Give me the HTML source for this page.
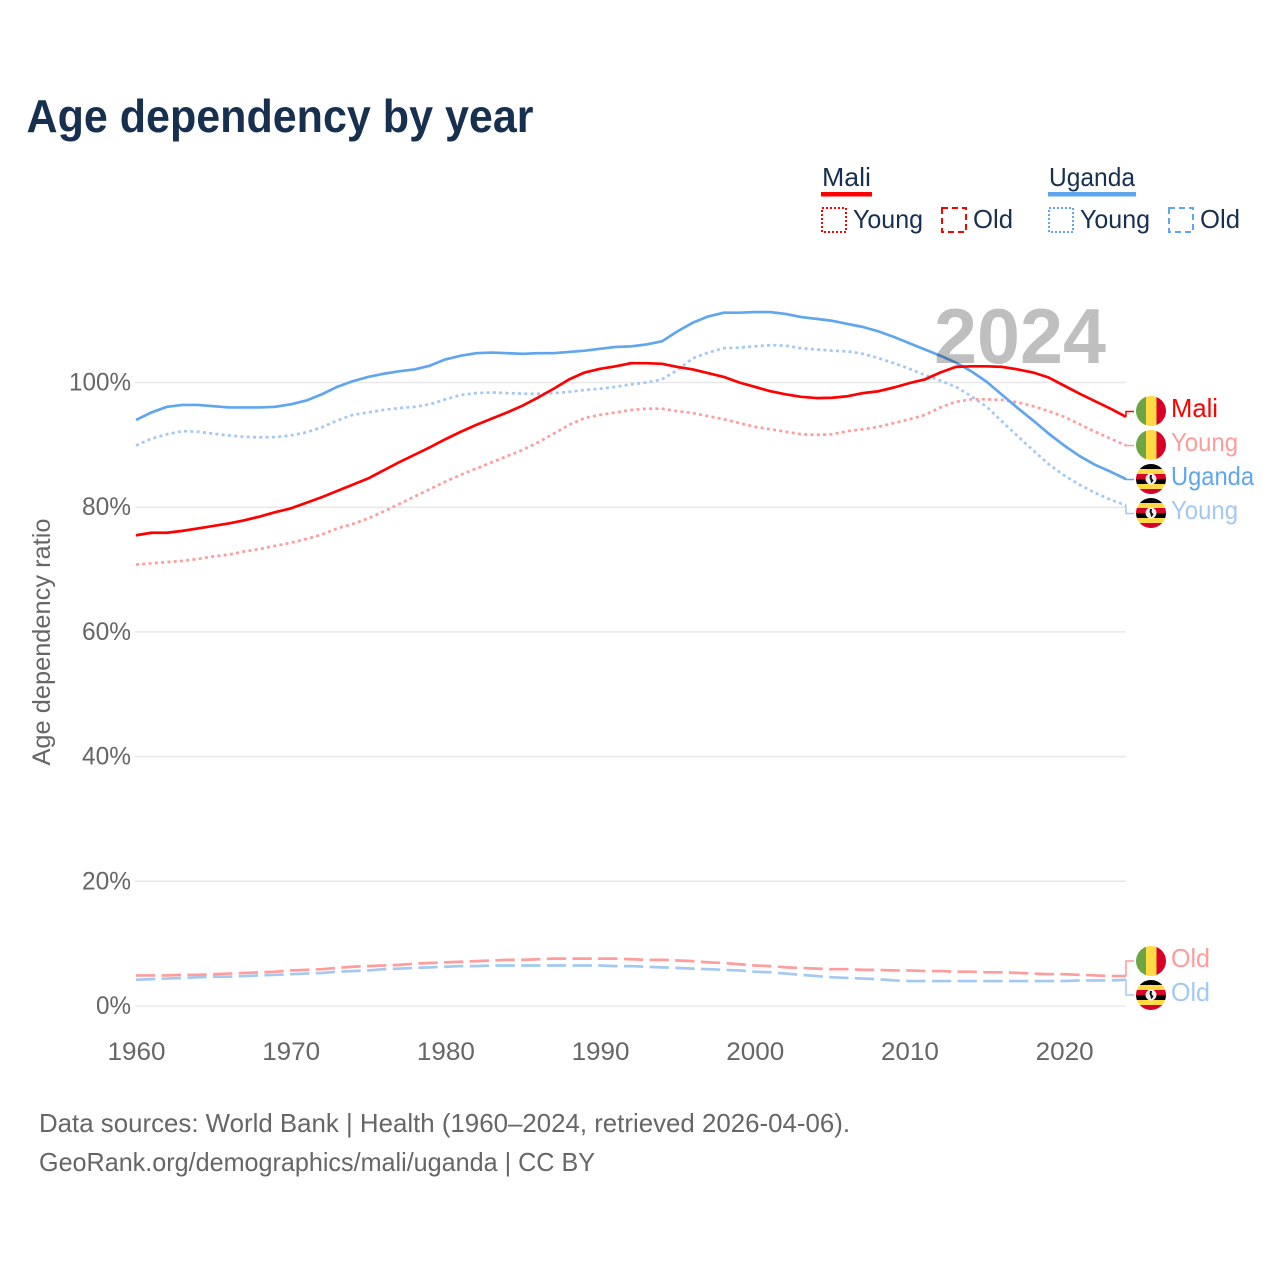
<!DOCTYPE html>
<html lang="en">
<head>
<meta charset="utf-8">
<title>Age dependency by year</title>
<style>
html,body{margin:0;padding:0;background:#fff}
svg{display:block}
text{font-family:"Liberation Sans",sans-serif}
</style>
</head>
<body>
<svg id="chart" xmlns="http://www.w3.org/2000/svg" width="1280" height="1280" viewBox="0 0 1280 1280">
<defs>
  <clipPath id="flag-clip"><circle cx="15" cy="15" r="15"/></clipPath>
  <symbol id="flag-mali" width="30" height="30" viewBox="0 0 30 30">
    <g clip-path="url(#flag-clip)">
      <rect x="0" y="0" width="10" height="30" fill="#6da544"/>
      <rect x="10" y="0" width="10.5" height="30" fill="#ffda44"/>
      <rect x="20.5" y="0" width="9.5" height="30" fill="#d80027"/>
    </g>
  </symbol>
  <symbol id="flag-uganda" width="30" height="30" viewBox="0 0 30 30">
    <g clip-path="url(#flag-clip)">
      <rect x="0" y="0" width="30" height="5" fill="#000"/>
      <rect x="0" y="5" width="30" height="5" fill="#ffda44"/>
      <rect x="0" y="10" width="30" height="5" fill="#d80027"/>
      <rect x="0" y="15" width="30" height="5" fill="#000"/>
      <rect x="0" y="20" width="30" height="5" fill="#ffda44"/>
      <rect x="0" y="25" width="30" height="5" fill="#d80027"/>
      <circle cx="15" cy="15" r="5.5" fill="#f0f0f0"/>
      <path d="M14 11 L16 11 L15.6 14 L17.5 16.5 L16 18.5 L15 19 L14.5 16 L13.5 14 Z" fill="#111"/>
    </g>
  </symbol>
</defs>

<text x="26.5" y="132" font-size="46" font-weight="700" fill="#18304f" textLength="507" lengthAdjust="spacingAndGlyphs">Age dependency by year</text>

<g id="grid"></g>
<g id="yticks"></g>
<g id="xticks"></g>

<text transform="translate(50,642) rotate(-90)" text-anchor="middle" font-size="25" fill="#666" textLength="247" lengthAdjust="spacingAndGlyphs">Age dependency ratio</text>

<g id="series"></g>
<g id="connectors"></g>

<text x="934" y="363" font-size="78" font-weight="700" fill="#000" fill-opacity="0.25" textLength="172" lengthAdjust="spacingAndGlyphs">2024</text>

<g>
  <text x="822" y="186" font-size="26" fill="#18304f" textLength="49" lengthAdjust="spacingAndGlyphs">Mali</text>
  <rect x="821" y="192" width="51" height="4.5" fill="#ff0000"/>
  <rect x="822" y="208" width="24" height="24" fill="none" stroke="#ff0000" stroke-width="2" stroke-dasharray="2,2"/>
  <text x="853" y="228" font-size="26" fill="#18304f" textLength="70" lengthAdjust="spacingAndGlyphs">Young</text>
  <rect x="942" y="208" width="24" height="24" fill="none" stroke="#ff0000" stroke-width="2" stroke-dasharray="6,4"/>
  <text x="973" y="228" font-size="26" fill="#18304f" textLength="40" lengthAdjust="spacingAndGlyphs">Old</text>

  <text x="1049" y="186" font-size="26" fill="#18304f" textLength="86" lengthAdjust="spacingAndGlyphs">Uganda</text>
  <rect x="1048" y="192" width="88" height="4.5" fill="#60a6ee"/>
  <rect x="1049" y="208" width="24" height="24" fill="none" stroke="#60a6ee" stroke-width="2" stroke-dasharray="2,2"/>
  <text x="1080" y="228" font-size="26" fill="#18304f" textLength="70" lengthAdjust="spacingAndGlyphs">Young</text>
  <rect x="1169" y="208" width="24" height="24" fill="none" stroke="#60a6ee" stroke-width="2" stroke-dasharray="6,4"/>
  <text x="1200" y="228" font-size="26" fill="#18304f" textLength="40" lengthAdjust="spacingAndGlyphs">Old</text>
</g>

<g>
  <use href="#flag-mali" x="1136" y="396"/>
  <text x="1171" y="417" font-size="26" fill="#ff0000" textLength="47" lengthAdjust="spacingAndGlyphs">Mali</text>
  <use href="#flag-mali" x="1136" y="430"/>
  <text x="1171" y="451" font-size="26" fill="#ff9c9c" textLength="67" lengthAdjust="spacingAndGlyphs">Young</text>
  <use href="#flag-uganda" x="1136" y="464"/>
  <text x="1171" y="485" font-size="26" fill="#60a6ee" textLength="83" lengthAdjust="spacingAndGlyphs">Uganda</text>
  <use href="#flag-uganda" x="1136" y="498"/>
  <text x="1171" y="519" font-size="26" fill="#a3c9f2" textLength="67" lengthAdjust="spacingAndGlyphs">Young</text>
  <use href="#flag-mali" x="1136" y="946"/>
  <text x="1171" y="967" font-size="26" fill="#ff9c9c" textLength="39" lengthAdjust="spacingAndGlyphs">Old</text>
  <use href="#flag-uganda" x="1136" y="980"/>
  <text x="1171" y="1001" font-size="26" fill="#a3c9f2" textLength="39" lengthAdjust="spacingAndGlyphs">Old</text>
</g>

<text x="39" y="1132" font-size="26" fill="#666" textLength="811" lengthAdjust="spacingAndGlyphs">Data sources: World Bank | Health (1960–2024, retrieved 2026-04-06).</text>
<text x="39" y="1171" font-size="26" fill="#666" textLength="556" lengthAdjust="spacingAndGlyphs">GeoRank.org/demographics/mali/uganda | CC BY</text>
</svg>

<script>
const firstYear = 1960;
const lastYear = 2024;
const xTickLabels = [1960, 1970, 1980, 1990, 2000, 2010, 2020];
const yTickLabels = [0, 20, 40, 60, 80, 100];

const maliTotal = [
  75.5,75.9,75.9,76.2,76.6,77.0,77.4,77.9,78.5,79.2,
  79.8,80.7,81.6,82.6,83.6,84.6,85.9,87.2,88.4,89.6,
  90.9,92.1,93.2,94.2,95.2,96.3,97.6,99.0,100.5,101.6,
  102.2,102.6,103.1,103.1,103.0,102.5,102.1,101.5,100.9,100.0,
  99.3,98.6,98.1,97.7,97.5,97.55,97.8,98.3,98.6,99.2,
  99.9,100.5,101.6,102.5,102.6,102.6,102.5,102.1,101.6,100.8,
  99.5,98.2,97.0,95.8,94.5
];
const maliYoung = [
  70.8,71.0,71.2,71.4,71.7,72.1,72.4,72.9,73.3,73.8,
  74.3,74.9,75.6,76.6,77.3,78.2,79.3,80.5,81.7,82.9,
  84.1,85.2,86.2,87.2,88.2,89.2,90.4,91.8,93.2,94.3,
  94.8,95.2,95.6,95.8,95.8,95.4,95.1,94.6,94.1,93.5,
  92.9,92.5,92.1,91.7,91.6,91.7,92.2,92.5,92.9,93.5,
  94.1,94.8,96.0,96.9,97.3,97.3,97.2,96.8,96.2,95.4,
  94.5,93.3,92.1,91.0,89.9
];
const maliOld = [
  4.9,4.9,4.9,5.0,5.0,5.1,5.2,5.3,5.4,5.5,
  5.7,5.8,5.9,6.1,6.3,6.4,6.5,6.6,6.8,6.9,
  7.0,7.1,7.2,7.3,7.4,7.4,7.5,7.6,7.6,7.6,
  7.6,7.6,7.5,7.4,7.4,7.3,7.2,7.0,6.9,6.7,
  6.5,6.4,6.2,6.1,6.0,5.9,5.9,5.8,5.8,5.7,
  5.7,5.6,5.6,5.5,5.5,5.4,5.4,5.3,5.2,5.1,
  5.1,5.0,4.9,4.8,4.8
];
const ugandaTotal = [
  94.0,95.2,96.1,96.4,96.4,96.2,96.0,96.0,96.0,96.1,
  96.5,97.1,98.1,99.3,100.2,100.9,101.4,101.8,102.1,102.7,
  103.7,104.3,104.7,104.8,104.7,104.6,104.7,104.7,104.9,105.1,
  105.4,105.7,105.8,106.1,106.6,108.2,109.6,110.6,111.2,111.2,
  111.3,111.3,111.0,110.5,110.2,109.9,109.4,108.9,108.2,107.3,
  106.3,105.3,104.3,103.2,101.8,100.1,98.0,95.9,93.9,91.8,
  89.9,88.2,86.8,85.7,84.5
];
const ugandaYoung = [
  89.9,91.0,91.7,92.2,92.1,91.8,91.5,91.3,91.2,91.25,
  91.5,92.0,92.8,93.9,94.8,95.2,95.6,95.9,96.1,96.5,
  97.3,98.0,98.3,98.4,98.3,98.2,98.2,98.3,98.5,98.8,
  99.0,99.3,99.7,100.0,100.5,102.0,103.9,104.8,105.5,105.6,
  105.8,106.0,105.9,105.5,105.3,105.1,105.0,104.6,103.9,103.1,
  102.2,101.2,100.3,99.3,97.8,96.1,93.7,91.4,89.1,86.9,
  85.1,83.6,82.3,81.2,80.3
];
const ugandaOld = [
  4.2,4.3,4.4,4.5,4.6,4.7,4.7,4.8,4.9,5.0,
  5.1,5.2,5.3,5.5,5.6,5.7,5.9,6.0,6.1,6.2,
  6.3,6.4,6.4,6.5,6.5,6.5,6.5,6.5,6.5,6.5,
  6.5,6.4,6.4,6.3,6.2,6.1,6.0,5.9,5.8,5.7,
  5.5,5.4,5.2,5.0,4.8,4.6,4.5,4.4,4.3,4.1,
  4.0,4.0,4.0,4.0,4.0,4.0,4.0,4.0,4.0,4.0,
  4.0,4.1,4.1,4.1,4.2
];

const NS = 'http://www.w3.org/2000/svg';
const plotLeft = 136, plotRight = 1126, plotZero = 1006, pxPerPct = 6.235;
function xScale(year) { return plotLeft + (year - firstYear) * (plotRight - plotLeft) / (lastYear - firstYear); }
function yScale(value) { return plotZero - value * pxPerPct; }
function make(tag, attrs, parent) {
  const el = document.createElementNS(NS, tag);
  for (const k in attrs) el.setAttribute(k, attrs[k]);
  parent.appendChild(el);
  return el;
}

const gridGroup = document.getElementById('grid');
const yTickGroup = document.getElementById('yticks');
const xTickGroup = document.getElementById('xticks');
const seriesGroup = document.getElementById('series');
const connectorGroup = document.getElementById('connectors');

yTickLabels.forEach(function (v) {
  const line = make('line', {x1: plotLeft - 1, x2: plotRight, y1: yScale(v), y2: yScale(v), stroke: '#e8e8e8', 'stroke-width': 1.5}, gridGroup);
  
  
  const label = make('text', {x: 131, y: yScale(v) + 8, 'text-anchor': 'end', 'font-size': 25, fill: '#666'}, yTickGroup);
  
  
  label.setAttribute('textLength', String(v).length === 3 ? 62 : (String(v).length === 2 ? 49 : 35));
  label.setAttribute('lengthAdjust', 'spacingAndGlyphs');
  label.textContent = v + '%';
});

xTickLabels.forEach(function (year) {
  const label = make('text', {x: xScale(year) + 0.5, y: 1060, 'text-anchor': 'middle', 'font-size': 25, fill: '#666'}, xTickGroup);
  
  
  label.setAttribute('textLength', 58);
  label.setAttribute('lengthAdjust', 'spacingAndGlyphs');
  label.textContent = year;
});

function drawSeries(values, color, dash) {
  const pts = values.map(function (v, i) { return xScale(firstYear + i).toFixed(2) + ',' + yScale(v).toFixed(2); });
  const attrs = {points: pts.join(' '), fill: 'none', stroke: color, 'stroke-width': 2.7, 'stroke-linejoin': 'round'};
  if (dash) attrs['stroke-dasharray'] = dash;
  return make('polyline', attrs, seriesGroup);
}
function drawConnector(values, labelY, color) {
  const endX = xScale(lastYear);
  const endY = yScale(values[values.length - 1]);
  return make('polyline', {points: endX + ',' + endY + ' ' + endX + ',' + labelY + ' 1134,' + labelY, fill: 'none', stroke: color, 'stroke-width': 1.5}, connectorGroup);
}

const dotted = '3,3.3';
const dashed = '19.3,6.4';

const lineUgandaOld = drawSeries(ugandaOld, '#a3c9f2', dashed);


const lineMaliOld = drawSeries(maliOld, '#ff9c9c', dashed);


const lineUgandaYoung = drawSeries(ugandaYoung, '#a3c9f2', dotted);


const lineMaliYoung = drawSeries(maliYoung, '#ff9c9c', dotted);


const lineUgandaTotal = drawSeries(ugandaTotal, '#60a6ee');


const lineMaliTotal = drawSeries(maliTotal, '#ff0000');



const connMaliTotal = drawConnector(maliTotal, 411.5, '#ff0000');


const connMaliYoung = drawConnector(maliYoung, 445.5, '#ff9c9c');


const connUgandaTotal = drawConnector(ugandaTotal, 479.5, '#60a6ee');


const connUgandaYoung = drawConnector(ugandaYoung, 513.5, '#a3c9f2');


const connMaliOld = drawConnector(maliOld, 961, '#ff9c9c');


const connUgandaOld = drawConnector(ugandaOld, 995, '#a3c9f2');


</script>
</body>
</html>
